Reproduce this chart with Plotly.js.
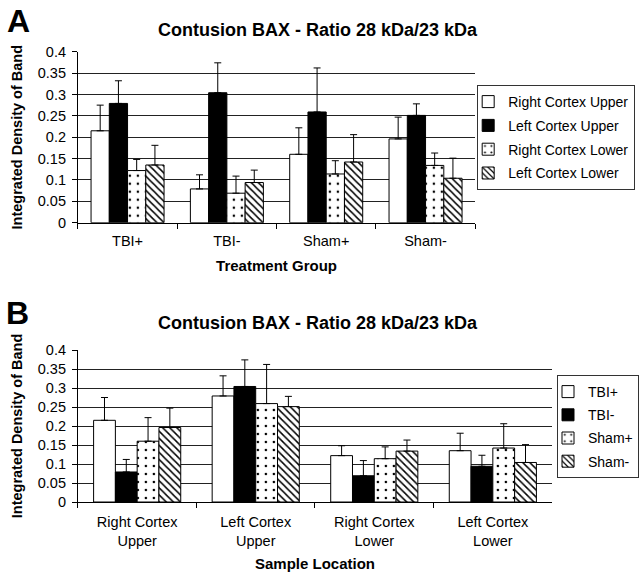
<!DOCTYPE html>
<html>
<head>
<meta charset="utf-8">
<script src="https://cdn.plot.ly/plotly-3.0.1.min.js"></script>
<style>html,body{margin:0;padding:0;background:#fff;}#chart{width:639px;height:580px;}</style>
</head>
<body>
<div id="chart"></div>
<script>
// Treatment groups (panel A categories / panel B series)
const groups = ['TBI+', 'TBI-', 'Sham+', 'Sham-'];
// Sample locations (panel A series / panel B categories)
const locations = ['Right Cortex Upper', 'Left Cortex Upper', 'Right Cortex Lower', 'Left Cortex Lower'];
const locationTicks = ['Right Cortex<br>Upper', 'Left Cortex<br>Upper', 'Right Cortex<br>Lower', 'Left Cortex<br>Lower'];

// Mean integrated density (ratio 28 kDa / 23 kDa), indexed by group
const rightUpperMean = [0.215, 0.079, 0.160, 0.196];
const leftUpperMean  = [0.279, 0.304, 0.259, 0.251];
const rightLowerMean = [0.122, 0.069, 0.114, 0.134];
const leftLowerMean  = [0.135, 0.094, 0.142, 0.104];

// Upper error (SEM), indexed by group
const rightUpperErr = [0.060, 0.033, 0.062, 0.051];
const leftUpperErr  = [0.053, 0.070, 0.103, 0.027];
const rightLowerErr = [0.026, 0.040, 0.031, 0.029];
const leftLowerErr  = [0.046, 0.029, 0.064, 0.047];

const means = [rightUpperMean, leftUpperMean, rightLowerMean, leftLowerMean];
const errs = [rightUpperErr, leftUpperErr, rightLowerErr, leftLowerErr];

const FONT = 'Liberation Sans, Arial, Helvetica, sans-serif';
const outline = {color: '#000', width: 1};
const styles = [
  {color: '#ffffff', line: outline},
  {color: '#000000', line: outline},
  {color: '#ffffff', line: outline, pattern: {shape: '.', fgcolor: '#000', bgcolor: '#fff', size: 8, solidity: 0.08}},
  {color: '#ffffff', line: outline, pattern: {shape: '\\', fgcolor: '#000', bgcolor: '#fff', size: 5, solidity: 0.3}}
];

function errBar(arr) {
  return {type: 'data', symmetric: false, array: arr, arrayminus: arr.map(() => 0),
          color: '#000', thickness: 1, width: 3.5};
}

const traces = [];
// Panel A: x = group, one series per location
locations.forEach((loc, i) => {
  traces.push({
    type: 'bar', name: loc, x: groups, y: means[i],
    error_y: errBar(errs[i]), marker: styles[i],
    xaxis: 'x', yaxis: 'y', legend: 'legend', legendgroup: 'a' + i
  });
});
// Panel B: x = location, one series per group
groups.forEach((g, j) => {
  traces.push({
    type: 'bar', name: g, x: locationTicks,
    y: means.map(m => m[j]),
    error_y: errBar(errs.map(e => e[j])), marker: styles[j],
    xaxis: 'x2', yaxis: 'y2', legend: 'legend2', legendgroup: 'b' + j
  });
});

const W = 639, H = 580;
const px = v => v / W;
const py = v => 1 - v / H;

function xAxis(domain, title, standoff, labelStandoff) {
  return {
    domain: domain, type: 'category', tickson: 'boundaries',
    ticks: 'outside', ticklen: 5, tickcolor: '#000', tickwidth: 1,
    showline: true, linecolor: '#000', linewidth: 1, showgrid: false, zeroline: false,
    tickfont: {size: 14.5, color: '#000'}, ticklabelstandoff: labelStandoff,
    title: {text: '<b>' + title + '</b>', font: {size: 15, color: '#000'}, standoff: standoff},
    fixedrange: true
  };
}
function yAxis(domain) {
  return {
    domain: domain, range: [0, 0.4], tick0: 0, dtick: 0.05,
    ticks: 'outside', ticklen: 5, tickcolor: '#000', tickwidth: 1,
    showline: true, linecolor: '#000', linewidth: 1,
    showgrid: true, gridcolor: '#222', gridwidth: 1, zeroline: false,
    tickfont: {size: 14.5, color: '#000'}, ticklabelstandoff: 3,
    title: {text: '<b>Integrated Density of Band</b>', font: {size: 14.5, color: '#000'}, standoff: 11},
    fixedrange: true
  };
}

function note(text, x, y, size) {
  return {text: text, x: px(x), y: py(y), xref: 'paper', yref: 'paper',
          xanchor: 'center', yanchor: 'middle', showarrow: false,
          font: {size: size, color: '#000'}};
}

const layout = {
  width: W, height: H,
  margin: {l: 0, r: 0, t: 0, b: 0},
  paper_bgcolor: '#fff', plot_bgcolor: '#fff',
  font: {family: FONT, color: '#000'},
  barmode: 'group', bargap: 0.265, bargroupgap: 0,
  xaxis: xAxis([px(79), px(482)], 'Treatment Group', 12, 5),
  yaxis: yAxis([py(222.7), py(51.7)]),
  xaxis2: Object.assign(xAxis([px(79), px(560)], 'Sample Location', 10, 7), {anchor: 'y2'}),
  yaxis2: Object.assign(yAxis([py(502), py(350)]), {anchor: 'x2'}),
  legend: {
    x: px(484), y: py(85), xanchor: 'left', yanchor: 'top',
    bordercolor: '#333', borderwidth: 1, bgcolor: '#fff',
    font: {size: 14, color: '#000'}, indentation: -10, tracegroupgap: 2.6
  },
  legend2: {
    x: px(565), y: py(375), xanchor: 'left', yanchor: 'top',
    bordercolor: '#333', borderwidth: 1, bgcolor: '#fff',
    font: {size: 14, color: '#000'}, indentation: -10, tracegroupgap: 2
  },
  showlegend: true,
  annotations: [
    note('<b>A</b>', 18.5, 21.5, 32),
    note('<b>B</b>', 17.5, 312.5, 32),
    note('<b>Contusion BAX - Ratio 28 kDa/23 kDa</b>', 323, 29.5, 18),
    note('<b>Contusion BAX - Ratio 28 kDa/23 kDa</b>', 323, 323, 18)
  ]
};

Plotly.newPlot('chart', traces, layout, {displayModeBar: false, staticPlot: true});
</script>
</body>
</html>
